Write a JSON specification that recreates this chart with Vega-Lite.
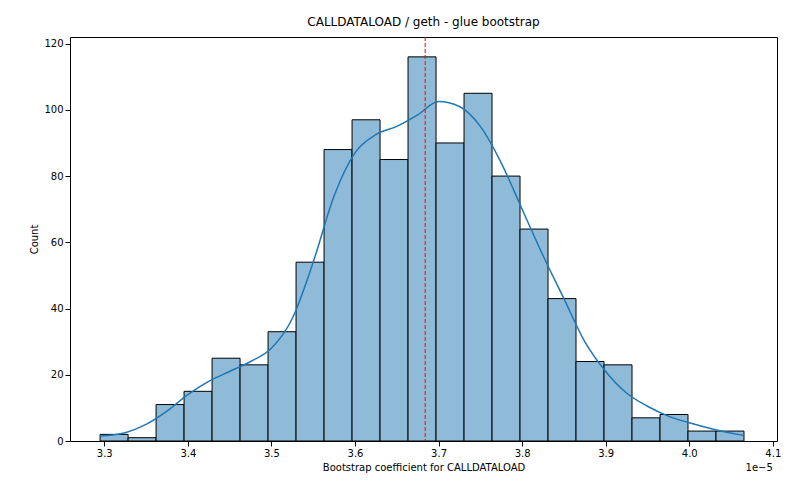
{
  "$schema": "https://vega.github.io/schema/vega-lite/v6.json",
  "width": 707,
  "height": 404,
  "autosize": "none",
  "padding": {"left": 70, "top": 37, "right": 23, "bottom": 59},
  "background": "white",
  "config": {
    "font": "DejaVu Sans",
    "view": {"stroke": "black", "strokeWidth": 1},
    "axis": {"grid": false, "domain": false, "labelFontSize": 10, "titleFontSize": 10, "titleFontWeight": "normal", "labelColor": "black", "titleColor": "black", "tickColor": "black"},
    "title": {"fontSize": 12, "fontWeight": "normal", "offset": 8}
  },
  "title": "CALLDATALOAD / geth - glue bootstrap",
  "datasets": {
    "bins": [
      {"b0": 3.295, "b1": 3.3285, "count": 2},
      {"b0": 3.3285, "b1": 3.362, "count": 1},
      {"b0": 3.362, "b1": 3.3955, "count": 11},
      {"b0": 3.3955, "b1": 3.429, "count": 15},
      {"b0": 3.429, "b1": 3.4625, "count": 25},
      {"b0": 3.4625, "b1": 3.496, "count": 23},
      {"b0": 3.496, "b1": 3.5295, "count": 33},
      {"b0": 3.5295, "b1": 3.563, "count": 54},
      {"b0": 3.563, "b1": 3.5965, "count": 88},
      {"b0": 3.5965, "b1": 3.63, "count": 97},
      {"b0": 3.63, "b1": 3.6635, "count": 85},
      {"b0": 3.6635, "b1": 3.697, "count": 116},
      {"b0": 3.697, "b1": 3.7305, "count": 90},
      {"b0": 3.7305, "b1": 3.764, "count": 105},
      {"b0": 3.764, "b1": 3.7975, "count": 80},
      {"b0": 3.7975, "b1": 3.831, "count": 64},
      {"b0": 3.831, "b1": 3.8645, "count": 43},
      {"b0": 3.8645, "b1": 3.898, "count": 24},
      {"b0": 3.898, "b1": 3.9315, "count": 23},
      {"b0": 3.9315, "b1": 3.965, "count": 7},
      {"b0": 3.965, "b1": 3.9985, "count": 8},
      {"b0": 3.9985, "b1": 4.032, "count": 3},
      {"b0": 4.032, "b1": 4.0655, "count": 3}
    ],
    "kde": [
      {"x": 3.295, "y": 1.5}, {"x": 3.325, "y": 2.5}, {"x": 3.35, "y": 5},
      {"x": 3.375, "y": 9}, {"x": 3.4, "y": 14}, {"x": 3.425, "y": 18},
      {"x": 3.45, "y": 21}, {"x": 3.475, "y": 24}, {"x": 3.5, "y": 28},
      {"x": 3.525, "y": 37}, {"x": 3.55, "y": 54}, {"x": 3.575, "y": 74},
      {"x": 3.6, "y": 87}, {"x": 3.625, "y": 92.5}, {"x": 3.65, "y": 95},
      {"x": 3.675, "y": 98.5}, {"x": 3.7, "y": 102.5}, {"x": 3.725, "y": 101},
      {"x": 3.75, "y": 95}, {"x": 3.775, "y": 84}, {"x": 3.8, "y": 70},
      {"x": 3.825, "y": 56}, {"x": 3.85, "y": 43}, {"x": 3.875, "y": 30},
      {"x": 3.9, "y": 21}, {"x": 3.925, "y": 14.5}, {"x": 3.95, "y": 10.5},
      {"x": 3.975, "y": 7.5}, {"x": 4.0, "y": 5.5}, {"x": 4.03, "y": 3.5},
      {"x": 4.065, "y": 1.7}
    ],
    "mean": [{"x": 3.684}],
    "offset": [{"x": 4.1, "y": 0, "label": "1e−5"}]
  },
  "layer": [
    {
      "data": {"name": "bins"},
      "mark": {"type": "rect", "fill": "#8fbbd9", "stroke": "black", "strokeWidth": 1},
      "encoding": {
        "x": {"field": "b0", "type": "quantitative", "scale": {"domain": [3.259, 4.105], "nice": false, "zero": false},
              "axis": {"values": [3.3, 3.4, 3.5, 3.6, 3.7, 3.8, 3.9, 4.0, 4.1], "format": ".1f", "labelFlush": false}, "title": "Bootstrap coefficient for CALLDATALOAD"},
        "x2": {"field": "b1"},
        "y": {"field": "count", "type": "quantitative", "scale": {"domain": [0, 122], "nice": false},
              "axis": {"values": [0, 20, 40, 60, 80, 100, 120]}, "title": "Count"},
        "y2": {"datum": 0}
      }
    },
    {
      "data": {"name": "kde"},
      "mark": {"type": "line", "color": "#1f77b4", "strokeWidth": 1.5, "interpolate": "monotone"},
      "encoding": {
        "x": {"field": "x", "type": "quantitative"},
        "y": {"field": "y", "type": "quantitative"}
      }
    },
    {
      "data": {"name": "mean"},
      "mark": {"type": "rule", "color": "red", "strokeDash": [4, 2], "strokeWidth": 1},
      "encoding": {"x": {"field": "x", "type": "quantitative"}}
    },
    {
      "data": {"name": "offset"},
      "mark": {"type": "text", "fontSize": 10, "align": "right", "baseline": "top", "clip": false, "dy": 22},
      "encoding": {
        "x": {"field": "x", "type": "quantitative"},
        "y": {"field": "y", "type": "quantitative"},
        "text": {"field": "label"}
      }
    }
  ]
}
